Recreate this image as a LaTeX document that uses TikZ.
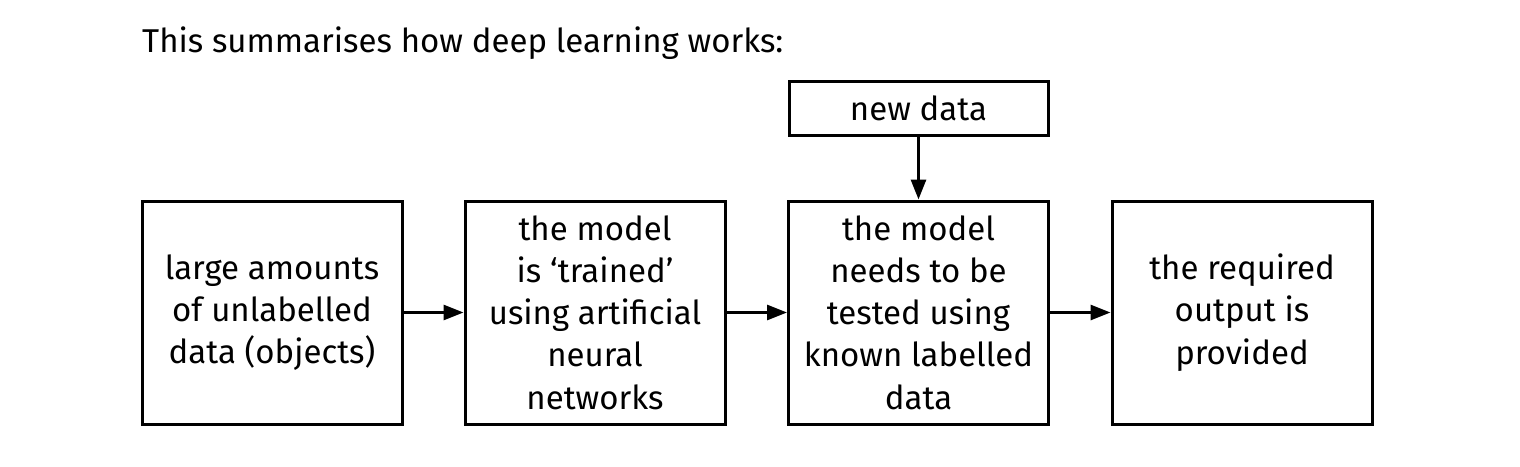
\documentclass[tikz,border=0pt]{standalone}
\usepackage{fontspec}
\setmainfont{Fira Sans}
\usetikzlibrary{arrows.meta}
\begin{document}
\begin{tikzpicture}[x=1pt,y=-1pt,
  txt/.style={font=\fontsize{33}{42.3}\selectfont},
  box/.style={txt, draw, line width=3pt, minimum width=260pt, minimum height=223pt, align=center, inner sep=0pt},
  topbox/.style={txt, draw, line width=3pt, minimum width=259pt, minimum height=54pt, inner sep=0pt},
  conn/.style={line width=3pt, -{Triangle[length=20pt,width=15pt]}}]
\useasboundingbox (0,0) rectangle (1520,466);
\node[txt, anchor=base west, inner sep=0pt] (title) at (142,52) {This summarises how deep learning works:};
\node[box] (b1) at (272,312.5) {large amounts\\of unlabelled\\data (objects)};
\node[box] (b2) at (595,312.5) {the model\\is ‘trained’\\using artificial\\neural\\networks};
\node[box] (b3) at (918.5,312.5) {the model\\needs to be\\tested using\\known labelled\\data};
\node[box] (b4) at (1242,312.5) {the required\\output is\\provided};
\node[topbox] (nd) at (918.5,108) {new data};
\draw[conn] (b1) -- (b2);
\draw[conn] (b2) -- (b3);
\draw[conn] (b3) -- (b4);
\draw[conn] (nd) -- (b3);
\end{tikzpicture}
\end{document}
